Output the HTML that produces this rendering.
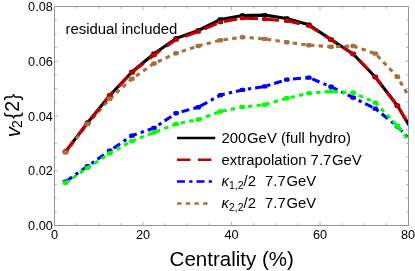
<!DOCTYPE html>
<html><head><meta charset="utf-8"><style>
html,body{margin:0;padding:0;background:#fff;}
svg{display:block;font-family:"Liberation Sans",sans-serif;will-change:transform;}
</style></head><body>
<svg width="415" height="271" viewBox="0 0 415 271">
<rect width="415" height="271" fill="#fff"/>
<defs><clipPath id="c"><rect x="54.5" y="6.5" width="354.0" height="219.0"/></clipPath></defs>
<g clip-path="url(#c)" fill="none" stroke-width="3.1" stroke-linejoin="round">
<polyline points="65.5,151.6 87.6,122.7 109.7,95.5 131.9,72.0 154.0,53.7 176.1,38.4 198.3,30.5 220.4,19.5 242.5,15.5 264.7,15.1 286.8,18.5 308.9,24.8 331.1,39.6 353.2,54.0 375.3,77.0 397.4,105.7 419.6,142.5" stroke="#000"/>
<rect x="62.7" y="149.4" width="5.6" height="4.4" rx="1.6" fill="#000" stroke="none"/><rect x="84.8" y="120.5" width="5.6" height="4.4" rx="1.6" fill="#000" stroke="none"/><rect x="106.9" y="93.3" width="5.6" height="4.4" rx="1.6" fill="#000" stroke="none"/><rect x="129.1" y="69.8" width="5.6" height="4.4" rx="1.6" fill="#000" stroke="none"/><rect x="151.2" y="51.5" width="5.6" height="4.4" rx="1.6" fill="#000" stroke="none"/><rect x="173.3" y="36.2" width="5.6" height="4.4" rx="1.6" fill="#000" stroke="none"/><rect x="195.5" y="28.3" width="5.6" height="4.4" rx="1.6" fill="#000" stroke="none"/><rect x="217.6" y="17.3" width="5.6" height="4.4" rx="1.6" fill="#000" stroke="none"/><rect x="239.7" y="13.3" width="5.6" height="4.4" rx="1.6" fill="#000" stroke="none"/><rect x="261.9" y="12.9" width="5.6" height="4.4" rx="1.6" fill="#000" stroke="none"/><rect x="284.0" y="16.3" width="5.6" height="4.4" rx="1.6" fill="#000" stroke="none"/><rect x="306.1" y="22.6" width="5.6" height="4.4" rx="1.6" fill="#000" stroke="none"/><rect x="328.3" y="37.4" width="5.6" height="4.4" rx="1.6" fill="#000" stroke="none"/><rect x="350.4" y="51.8" width="5.6" height="4.4" rx="1.6" fill="#000" stroke="none"/><rect x="372.5" y="74.8" width="5.6" height="4.4" rx="1.6" fill="#000" stroke="none"/><rect x="394.6" y="103.5" width="5.6" height="4.4" rx="1.6" fill="#000" stroke="none"/>
<polyline points="65.5,152.5 87.6,124.1 109.7,98.8 131.9,78.8 154.0,63.5 176.1,53.2 198.3,46.0 220.4,40.2 242.5,37.2 264.7,38.9 286.8,42.2 308.9,45.2 331.1,46.7 353.2,46.0 375.3,53.6 397.4,76.8 419.6,115.0" stroke="#a8703a" stroke-dasharray="4.5 4.2"/>
<polyline points="65.5,151.8 87.6,123.0 109.7,95.9 131.9,72.6 154.0,55.0 176.1,39.6 198.3,31.5 220.4,22.1 242.5,18.1 264.7,19.1 286.8,20.8 308.9,25.6 331.1,39.6 353.2,54.0 375.3,77.0 397.4,105.7 419.6,142.5" stroke="#c00000" stroke-dasharray="13.4 7.6"/>
<rect x="62.7" y="149.6" width="5.6" height="4.4" rx="1.6" fill="#c00000" stroke="none"/><rect x="84.8" y="120.8" width="5.6" height="4.4" rx="1.6" fill="#c00000" stroke="none"/><rect x="106.9" y="93.7" width="5.6" height="4.4" rx="1.6" fill="#c00000" stroke="none"/><rect x="129.1" y="70.4" width="5.6" height="4.4" rx="1.6" fill="#c00000" stroke="none"/><rect x="151.2" y="52.8" width="5.6" height="4.4" rx="1.6" fill="#c00000" stroke="none"/><rect x="173.3" y="37.4" width="5.6" height="4.4" rx="1.6" fill="#c00000" stroke="none"/><rect x="195.5" y="29.3" width="5.6" height="4.4" rx="1.6" fill="#c00000" stroke="none"/><rect x="217.6" y="19.9" width="5.6" height="4.4" rx="1.6" fill="#c00000" stroke="none"/><rect x="239.7" y="15.9" width="5.6" height="4.4" rx="1.6" fill="#c00000" stroke="none"/><rect x="261.9" y="16.9" width="5.6" height="4.4" rx="1.6" fill="#c00000" stroke="none"/><rect x="284.0" y="18.6" width="5.6" height="4.4" rx="1.6" fill="#c00000" stroke="none"/><rect x="306.1" y="23.4" width="5.6" height="4.4" rx="1.6" fill="#c00000" stroke="none"/><rect x="328.3" y="37.4" width="5.6" height="4.4" rx="1.6" fill="#c00000" stroke="none"/><rect x="350.4" y="51.8" width="5.6" height="4.4" rx="1.6" fill="#c00000" stroke="none"/><rect x="372.5" y="74.8" width="5.6" height="4.4" rx="1.6" fill="#c00000" stroke="none"/><rect x="394.6" y="103.5" width="5.6" height="4.4" rx="1.6" fill="#c00000" stroke="none"/>
<rect x="62.7" y="150.3" width="5.6" height="4.4" rx="1.6" fill="#a8703a" stroke="none"/><rect x="84.8" y="121.9" width="5.6" height="4.4" rx="1.6" fill="#a8703a" stroke="none"/><rect x="106.9" y="96.6" width="5.6" height="4.4" rx="1.6" fill="#a8703a" stroke="none"/><rect x="129.1" y="76.6" width="5.6" height="4.4" rx="1.6" fill="#a8703a" stroke="none"/><rect x="151.2" y="61.3" width="5.6" height="4.4" rx="1.6" fill="#a8703a" stroke="none"/><rect x="173.3" y="51.0" width="5.6" height="4.4" rx="1.6" fill="#a8703a" stroke="none"/><rect x="195.5" y="43.8" width="5.6" height="4.4" rx="1.6" fill="#a8703a" stroke="none"/><rect x="217.6" y="38.0" width="5.6" height="4.4" rx="1.6" fill="#a8703a" stroke="none"/><rect x="239.7" y="35.0" width="5.6" height="4.4" rx="1.6" fill="#a8703a" stroke="none"/><rect x="261.9" y="36.7" width="5.6" height="4.4" rx="1.6" fill="#a8703a" stroke="none"/><rect x="284.0" y="40.0" width="5.6" height="4.4" rx="1.6" fill="#a8703a" stroke="none"/><rect x="306.1" y="43.0" width="5.6" height="4.4" rx="1.6" fill="#a8703a" stroke="none"/><rect x="328.3" y="44.5" width="5.6" height="4.4" rx="1.6" fill="#a8703a" stroke="none"/><rect x="350.4" y="43.8" width="5.6" height="4.4" rx="1.6" fill="#a8703a" stroke="none"/><rect x="372.5" y="51.4" width="5.6" height="4.4" rx="1.6" fill="#a8703a" stroke="none"/><rect x="394.6" y="74.6" width="5.6" height="4.4" rx="1.6" fill="#a8703a" stroke="none"/>
<polyline points="65.5,181.7 87.6,166.2 109.7,150.8 131.9,135.6 154.0,128.0 176.1,113.2 198.3,107.2 220.4,95.1 242.5,89.9 264.7,86.4 286.8,79.6 308.9,77.6 331.1,86.7 353.2,97.6 375.3,108.6 397.4,126.4 419.6,150.0" stroke="#0000ff" stroke-dasharray="8 4.2 3.3 4"/>
<rect x="62.7" y="179.5" width="5.6" height="4.4" rx="1.6" fill="#0000ff" stroke="none"/><rect x="84.8" y="164.0" width="5.6" height="4.4" rx="1.6" fill="#0000ff" stroke="none"/><rect x="106.9" y="148.6" width="5.6" height="4.4" rx="1.6" fill="#0000ff" stroke="none"/><rect x="129.1" y="133.4" width="5.6" height="4.4" rx="1.6" fill="#0000ff" stroke="none"/><rect x="151.2" y="125.8" width="5.6" height="4.4" rx="1.6" fill="#0000ff" stroke="none"/><rect x="173.3" y="111.0" width="5.6" height="4.4" rx="1.6" fill="#0000ff" stroke="none"/><rect x="195.5" y="105.0" width="5.6" height="4.4" rx="1.6" fill="#0000ff" stroke="none"/><rect x="217.6" y="92.9" width="5.6" height="4.4" rx="1.6" fill="#0000ff" stroke="none"/><rect x="239.7" y="87.7" width="5.6" height="4.4" rx="1.6" fill="#0000ff" stroke="none"/><rect x="261.9" y="84.2" width="5.6" height="4.4" rx="1.6" fill="#0000ff" stroke="none"/><rect x="284.0" y="77.4" width="5.6" height="4.4" rx="1.6" fill="#0000ff" stroke="none"/><rect x="306.1" y="75.4" width="5.6" height="4.4" rx="1.6" fill="#0000ff" stroke="none"/><rect x="328.3" y="84.5" width="5.6" height="4.4" rx="1.6" fill="#0000ff" stroke="none"/><rect x="350.4" y="95.4" width="5.6" height="4.4" rx="1.6" fill="#0000ff" stroke="none"/><rect x="372.5" y="106.4" width="5.6" height="4.4" rx="1.6" fill="#0000ff" stroke="none"/><rect x="394.6" y="124.2" width="5.6" height="4.4" rx="1.6" fill="#0000ff" stroke="none"/>
<polyline points="65.5,182.8 87.6,167.9 109.7,153.5 131.9,141.1 154.0,132.5 176.1,124.0 198.3,119.5 220.4,111.5 242.5,107.0 264.7,104.7 286.8,98.2 308.9,93.2 331.1,91.3 353.2,92.8 375.3,102.6 397.4,125.7 419.6,155.0" stroke="#00ff00" stroke-dasharray="4.5 4.2"/>
<rect x="62.7" y="180.6" width="5.6" height="4.4" rx="1.6" fill="#00ff00" stroke="none"/><rect x="84.8" y="165.7" width="5.6" height="4.4" rx="1.6" fill="#00ff00" stroke="none"/><rect x="106.9" y="151.3" width="5.6" height="4.4" rx="1.6" fill="#00ff00" stroke="none"/><rect x="129.1" y="138.9" width="5.6" height="4.4" rx="1.6" fill="#00ff00" stroke="none"/><rect x="151.2" y="130.3" width="5.6" height="4.4" rx="1.6" fill="#00ff00" stroke="none"/><rect x="173.3" y="121.8" width="5.6" height="4.4" rx="1.6" fill="#00ff00" stroke="none"/><rect x="195.5" y="117.3" width="5.6" height="4.4" rx="1.6" fill="#00ff00" stroke="none"/><rect x="217.6" y="109.3" width="5.6" height="4.4" rx="1.6" fill="#00ff00" stroke="none"/><rect x="239.7" y="104.8" width="5.6" height="4.4" rx="1.6" fill="#00ff00" stroke="none"/><rect x="261.9" y="102.5" width="5.6" height="4.4" rx="1.6" fill="#00ff00" stroke="none"/><rect x="284.0" y="96.0" width="5.6" height="4.4" rx="1.6" fill="#00ff00" stroke="none"/><rect x="306.1" y="91.0" width="5.6" height="4.4" rx="1.6" fill="#00ff00" stroke="none"/><rect x="328.3" y="89.1" width="5.6" height="4.4" rx="1.6" fill="#00ff00" stroke="none"/><rect x="350.4" y="90.6" width="5.6" height="4.4" rx="1.6" fill="#00ff00" stroke="none"/><rect x="372.5" y="100.4" width="5.6" height="4.4" rx="1.6" fill="#00ff00" stroke="none"/><rect x="394.6" y="123.5" width="5.6" height="4.4" rx="1.6" fill="#00ff00" stroke="none"/>
</g>
<rect x="54.5" y="6.5" width="354.0" height="219.0" fill="none" stroke="#969696" stroke-width="1"/>
<path d="M54.50 225.5v-3.6M54.50 6.5v3.6M76.62 225.5v-2.3M76.62 6.5v2.3M98.75 225.5v-2.3M98.75 6.5v2.3M120.88 225.5v-2.3M120.88 6.5v2.3M143.00 225.5v-3.6M143.00 6.5v3.6M165.12 225.5v-2.3M165.12 6.5v2.3M187.25 225.5v-2.3M187.25 6.5v2.3M209.38 225.5v-2.3M209.38 6.5v2.3M231.50 225.5v-3.6M231.50 6.5v3.6M253.62 225.5v-2.3M253.62 6.5v2.3M275.75 225.5v-2.3M275.75 6.5v2.3M297.88 225.5v-2.3M297.88 6.5v2.3M320.00 225.5v-3.6M320.00 6.5v3.6M342.12 225.5v-2.3M342.12 6.5v2.3M364.25 225.5v-2.3M364.25 6.5v2.3M386.38 225.5v-2.3M386.38 6.5v2.3M408.50 225.5v-3.6M408.50 6.5v3.6M54.5 225.50h3.6M408.5 225.50h-3.6M54.5 211.81h2.3M408.5 211.81h-2.3M54.5 198.12h2.3M408.5 198.12h-2.3M54.5 184.44h2.3M408.5 184.44h-2.3M54.5 170.75h3.6M408.5 170.75h-3.6M54.5 157.06h2.3M408.5 157.06h-2.3M54.5 143.38h2.3M408.5 143.38h-2.3M54.5 129.69h2.3M408.5 129.69h-2.3M54.5 116.00h3.6M408.5 116.00h-3.6M54.5 102.31h2.3M408.5 102.31h-2.3M54.5 88.62h2.3M408.5 88.62h-2.3M54.5 74.94h2.3M408.5 74.94h-2.3M54.5 61.25h3.6M408.5 61.25h-3.6M54.5 47.56h2.3M408.5 47.56h-2.3M54.5 33.88h2.3M408.5 33.88h-2.3M54.5 20.19h2.3M408.5 20.19h-2.3M54.5 6.50h3.6M408.5 6.50h-3.6" stroke="#a0a0a0" stroke-width="0.8" fill="none"/>
<g font-size="12.7" fill="#000"><text x="54.5" y="239.3" text-anchor="middle">0</text><text x="143.0" y="239.3" text-anchor="middle">20</text><text x="231.5" y="239.3" text-anchor="middle">40</text><text x="320.0" y="239.3" text-anchor="middle">60</text><text x="408.0" y="239.3" text-anchor="middle">80</text><text x="52.8" y="230.1" text-anchor="end">0.00</text><text x="52.8" y="175.3" text-anchor="end">0.02</text><text x="52.8" y="120.6" text-anchor="end">0.04</text><text x="52.8" y="65.8" text-anchor="end">0.06</text><text x="52.8" y="11.1" text-anchor="end">0.08</text></g>
<text x="231.7" y="265.5" font-size="20.5" text-anchor="middle">Centrality (%)</text>
<text transform="translate(19.6,115.5) rotate(-90)" font-size="20.5" text-anchor="middle"><tspan font-style="italic">v</tspan><tspan font-size="14" dy="2.7" dx="-1">2</tspan><tspan dy="-3.6" dx="1.3" font-size="20.5">{</tspan><tspan font-size="19.5" dy="0.3" dx="0.3">2</tspan><tspan font-size="20.5" dy="-0.3" dx="0.3">}</tspan></text>
<text x="65.5" y="34.2" font-size="14.9">residual included</text>
<g stroke-width="2.5" fill="none">
<path d="M177 138.1H215.2" stroke="#000"/>
<path d="M177 159.7H215.2" stroke="#c00000" stroke-dasharray="13.4 7.6"/>
<path d="M177 181.6H215.2" stroke="#0000ff" stroke-dasharray="8 4.2 3.3 4"/>
<path d="M177 203.4H210" stroke="#a8703a" stroke-dasharray="4.5 4.2"/>
</g>
<g font-size="14.85" fill="#000">
<text x="221.5" y="143.1">200<tspan dx="0.8">GeV (full hydro)</tspan></text>
<text x="221.5" y="164.8">extrapolation 7.7<tspan dx="0.8">GeV</tspan></text>
<text x="221.5" y="185.7"><tspan font-style="italic">κ</tspan><tspan font-size="10.5" dy="2.8">1,2</tspan><tspan dy="-2.8">/2</tspan><tspan dx="5"> 7.7</tspan><tspan dx="0.8">GeV</tspan></text>
<text x="221.5" y="207.8"><tspan font-style="italic">κ</tspan><tspan font-size="10.5" dy="2.8">2,2</tspan><tspan dy="-2.8">/2</tspan><tspan dx="5"> 7.7</tspan><tspan dx="0.8">GeV</tspan></text>
</g>
</svg>
</body></html>
